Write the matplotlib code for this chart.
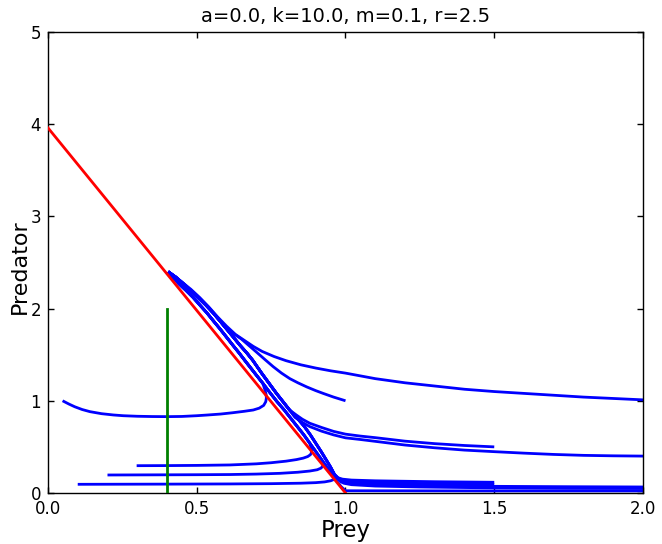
import matplotlib
matplotlib.use("Agg")
import matplotlib.pyplot as plt

# ---- data ----
title = "a=0.0, k=10.0, m=0.1, r=2.5"
x_ticks = [0.0, 0.5, 1.0, 1.5, 2.0]
y_ticks = [0, 1, 2, 3, 4, 5]

# prey nullcline (red) and predator nullcline (green)
red_x = [0.0, 1.0]
red_y = [3.96, 0.0]
green_x = [0.4, 0.4]
green_y = [0.0, 2.0]

# shared slow band (bottom -> top): inner (next to red line) and outer variants
band_inner_x = [0.997, 0.985, 0.968, 0.947, 0.920, 0.900, 0.880, 0.860, 0.838, 0.816, 0.794, 0.770, 0.748,
                0.722, 0.695, 0.661, 0.642, 0.622, 0.600, 0.578, 0.555, 0.535, 0.510, 0.488, 0.463, 0.440,
                0.420, 0.404]
band_inner_y = [0.02, 0.07, 0.14, 0.24, 0.36, 0.45, 0.54, 0.63, 0.72, 0.81, 0.90, 0.99, 1.08,
                1.19, 1.30, 1.44, 1.52, 1.60, 1.69, 1.78, 1.87, 1.95, 2.04, 2.12, 2.20, 2.27,
                2.34, 2.40]
band_outer_x = [1.000, 0.993, 0.982, 0.972, 0.963, 0.950, 0.935, 0.918, 0.900, 0.882, 0.862, 0.838, 0.812,
                0.790, 0.768, 0.743, 0.718, 0.688, 0.668, 0.646, 0.623, 0.600, 0.577, 0.556, 0.530, 0.504,
                0.478, 0.455, 0.430, 0.404]
band_outer_y = [0.02, 0.05, 0.10, 0.15, 0.20, 0.28, 0.36, 0.45, 0.54, 0.63, 0.72, 0.81, 0.90,
                0.99, 1.08, 1.19, 1.30, 1.44, 1.52, 1.60, 1.69, 1.78, 1.87, 1.95, 2.04, 2.12,
                2.20, 2.27, 2.34, 2.40]

# individual trajectory segments (start -> joining point); the band follows them
traj_A_x = [2.0, 1.9, 1.8, 1.7, 1.6, 1.5, 1.4, 1.3, 1.2, 1.1, 1.0, 0.95, 0.9, 0.85, 0.8, 0.76, 0.72,
            0.69, 0.66, 0.63, 0.60, 0.57, 0.54, 0.51, 0.48, 0.455, 0.43, 0.415, 0.404]
traj_A_y = [1.01, 1.025, 1.04, 1.06, 1.08, 1.10, 1.125, 1.16, 1.195, 1.24, 1.30, 1.325, 1.355, 1.39,
            1.435, 1.48, 1.535, 1.59, 1.655, 1.72, 1.81, 1.91, 2.02, 2.12, 2.21, 2.275, 2.34, 2.375, 2.40]
traj_B_x = [1.0, 0.96, 0.925, 0.9, 0.87, 0.84, 0.813, 0.785, 0.757, 0.73, 0.70, 0.675, 0.65]
traj_B_y = [1.0, 1.04, 1.08, 1.11, 1.15, 1.195, 1.24, 1.30, 1.37, 1.445, 1.53, 1.60, 1.67]
traj_C_x = [1.5, 1.4, 1.3, 1.2, 1.1, 1.05, 1.0, 0.96, 0.92, 0.88, 0.855, 0.835]
traj_C_y = [0.50, 0.515, 0.535, 0.562, 0.60, 0.617, 0.638, 0.668, 0.71, 0.756, 0.80, 0.845]
traj_D_x = [2.0, 1.9, 1.8, 1.7, 1.6, 1.5, 1.4, 1.3, 1.2, 1.1, 1.05, 1.0, 0.96, 0.92, 0.88, 0.855, 0.83]
traj_D_y = [0.40, 0.403, 0.408, 0.418, 0.432, 0.448, 0.465, 0.49, 0.52, 0.56, 0.58, 0.598, 0.63, 0.67,
            0.72, 0.765, 0.82]
traj_I_x = [1.5, 1.3, 1.1, 1.02, 0.99, 0.975]
traj_I_y = [0.116, 0.122, 0.132, 0.14, 0.15, 0.165]
traj_J_x = [1.5, 1.3, 1.1, 1.02, 0.99, 0.978]
traj_J_y = [0.094, 0.10, 0.112, 0.122, 0.135, 0.15]
traj_K_x = [2.0, 1.75, 1.5, 1.25, 1.1, 1.02, 0.99, 0.982]
traj_K_y = [0.065, 0.068, 0.072, 0.082, 0.092, 0.105, 0.12, 0.135]
traj_L_x = [2.0, 1.75, 1.5, 1.25, 1.1, 1.02, 0.995, 0.985]
traj_L_y = [0.048, 0.05, 0.055, 0.065, 0.075, 0.09, 0.105, 0.12]
traj_M_x = [2.0, 1.5, 1.0]
traj_M_y = [0.022, 0.022, 0.024]
traj_E_x = [0.049, 0.07, 0.09, 0.115, 0.141, 0.18, 0.22, 0.253, 0.30, 0.35, 0.402, 0.45, 0.50, 0.533,
            0.58, 0.62, 0.66, 0.69, 0.71, 0.725, 0.732, 0.734, 0.733, 0.73]
traj_E_y = [1.0, 0.965, 0.935, 0.905, 0.882, 0.86, 0.846, 0.838, 0.832, 0.829, 0.828, 0.83, 0.838, 0.845,
            0.856, 0.87, 0.886, 0.90, 0.92, 0.95, 0.99, 1.03, 1.07, 1.11]
traj_F_x = [0.298, 0.40, 0.50, 0.612, 0.70, 0.75, 0.80, 0.835, 0.858, 0.873, 0.882, 0.886, 0.886, 0.884]
traj_F_y = [0.296, 0.297, 0.299, 0.304, 0.316, 0.328, 0.345, 0.362, 0.378, 0.395, 0.415, 0.44, 0.465, 0.49]
traj_G_x = [0.20, 0.30, 0.40, 0.50, 0.612, 0.70, 0.78, 0.84, 0.88, 0.905, 0.918, 0.924, 0.925]
traj_G_y = [0.195, 0.196, 0.197, 0.198, 0.20, 0.205, 0.213, 0.225, 0.238, 0.252, 0.27, 0.295, 0.32]
traj_H_x = [0.10, 0.25, 0.40, 0.612, 0.75, 0.85, 0.90, 0.93, 0.95, 0.96, 0.965]
traj_H_y = [0.094, 0.095, 0.096, 0.098, 0.101, 0.106, 0.112, 0.12, 0.132, 0.145, 0.16]


def join(xs, ys, bx, by, gap=0.03):
    """Append the band points lying above the trajectory's joining point."""
    yj = ys[-1]
    ox = list(xs) + [x for x, y in zip(bx, by) if y > yj + gap]
    oy = list(ys) + [y for y in by if y > yj + gap]
    return ox, oy


trajectories = [
    (traj_A_x, traj_A_y),
    join(traj_B_x, traj_B_y, band_outer_x, band_outer_y),
    join(traj_C_x, traj_C_y, band_outer_x, band_outer_y),
    join(traj_D_x, traj_D_y, band_outer_x, band_outer_y),
    join(traj_I_x, traj_I_y, band_outer_x, band_outer_y),
    join(traj_J_x, traj_J_y, band_outer_x, band_outer_y),
    join(traj_K_x, traj_K_y, band_outer_x, band_outer_y),
    join(traj_L_x, traj_L_y, band_outer_x, band_outer_y),
    join(traj_M_x, traj_M_y, band_inner_x, band_inner_y, gap=0.0),
    join(traj_E_x, traj_E_y, band_inner_x, band_inner_y),
    join(traj_F_x, traj_F_y, band_inner_x, band_inner_y),
    join(traj_G_x, traj_G_y, band_inner_x, band_inner_y),
    join(traj_H_x, traj_H_y, band_inner_x, band_inner_y),
]

fig = plt.figure(figsize=(6.62, 5.44), dpi=100)
ax = fig.add_axes([0.0725, 0.0938, 0.8988, 0.8474])

for tx, ty in trajectories:
    ax.plot(tx, ty, color=(0, 0, 1), lw=2, solid_capstyle="butt",
            solid_joinstyle="round", zorder=2)

ax.plot(red_x, red_y, color=(1, 0, 0), lw=2, zorder=3)
ax.plot(green_x, green_y, color=(0, 0.5, 0), lw=2, zorder=3)

ax.set_xlim(0, 2)
ax.set_ylim(0, 5)
ax.set_xticks(x_ticks)
ax.set_xticklabels([f"{v:.1f}" for v in x_ticks])
ax.set_yticks(y_ticks)
ax.set_yticklabels([str(v) for v in y_ticks])
ax.tick_params(direction="in", top=True, right=True, length=4, width=1,
               labelsize=12, pad=5)
for s in ax.spines.values():
    s.set_linewidth(1)
    s.set_color("black")

ax.set_title(title, fontsize=14, pad=7)
ax.set_xlabel("Prey", fontsize=16.5, labelpad=1)
ax.set_ylabel("Predator", fontsize=16, va="center")
ax.yaxis.set_label_coords(-0.047, 0.49)

fig.savefig("out.png", dpi=100)
